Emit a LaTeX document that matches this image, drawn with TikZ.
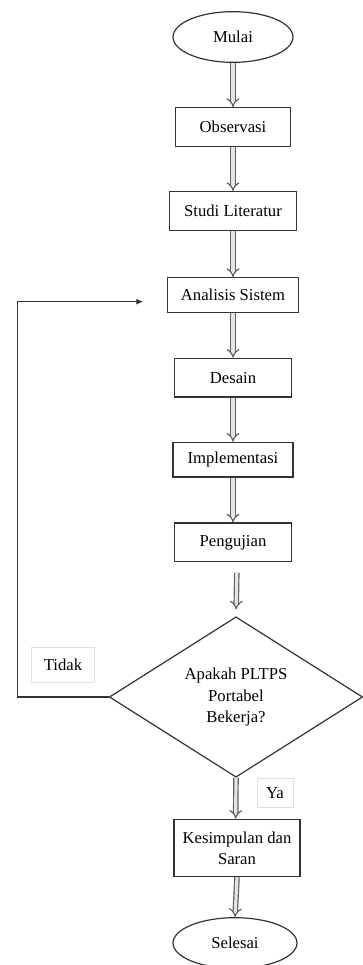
\documentclass[tikz,border=0pt]{standalone}
\usepackage{fontspec}
\setmainfont{Liberation Serif}
\usepackage{tikz}
\usetikzlibrary{shapes.geometric, arrows.meta, positioning}

\begin{document}
\begin{tikzpicture}[
    x=0.75pt, y=-0.75pt,
    node distance=63pt,
    font=\fontsize{12.5}{16}\selectfont,
    terminal/.style={ellipse, draw=black!80, line width=0.9pt, minimum width=90pt, minimum height=38pt, inner sep=0pt},
    process/.style={rectangle, draw=black!80, line width=0.9pt, fill=white, minimum width=88pt, minimum height=29pt, align=center, inner sep=2pt},
    decision/.style={diamond, draw=black!80, line width=0.9pt, minimum width=190pt, minimum height=115pt, inner sep=0pt, align=center},
    flow/.style={draw=gray!75!black, line width=0.9pt, double=gray!20, double distance=2.4pt, -{Implies}},
    loop/.style={draw=black!80, line width=0.8pt, -{Latex[length=5pt, width=4.5pt]}},
    answer/.style={rectangle, draw=gray!25, line width=0.6pt, inner sep=0pt}
]
    \useasboundingbox (0,0) rectangle (362,965);

    % Main chain
    \node (mulai) [terminal] at (233,37) {Mulai};
    \node (observasi) [process, below of=mulai, yshift=-4.5pt, minimum width=86pt] {Observasi};
    \node (studi) [process, below of=observasi, minimum width=95pt] {Studi Literatur};
    \node (analisis) [process, below of=studi, minimum width=98pt, minimum height=26pt] {Analisis Sistem};
    \node (desain) [process, below of=analisis, yshift=1pt] {Desain};
    \node (implementasi) [process, below of=desain, yshift=1.5pt, minimum width=90pt, minimum height=26pt] {Implementasi};
    \node (pengujian) [process, below of=implementasi, yshift=1pt] {Pengujian};

    % Decision and end
    \node (cek) [decision] at (236,697) {Apakah PLTPS\\Portabel\\Bekerja?};
    \node (kesimpulan) [process, minimum width=94.5pt, minimum height=43pt] at (237,848) {Kesimpulan dan\\Saran};
    \node (selesai) [terminal, minimum width=93pt] at (235,943) {Selesai};

    % Answer labels
    \node (tidak) [answer, minimum width=47pt, minimum height=26pt] at (63,665) {Tidak};
    \node (ya) [answer, minimum width=27pt, minimum height=22pt] at (275,793) {Ya};

    % Flow arrows
    \draw [flow] (mulai) -- (observasi);
    \draw [flow] (observasi) -- (studi);
    \draw [flow] (studi) -- (analisis);
    \draw [flow] (analisis) -- (desain);
    \draw [flow] (desain) -- (implementasi);
    \draw [flow] (implementasi) -- (pengujian);
    \draw [flow, shorten <=8pt, shorten >=5pt] ([xshift=3pt]pengujian.south) -- (cek.north);
    \draw [flow] (cek.south) -- ([xshift=-1pt]kesimpulan.north);
    \draw [flow] (kesimpulan.south) -- (selesai.north);

    % Loop back
    \coordinate (masuk) at ([xshift=-18pt, yshift=-5pt]analisis.west);
    \draw [loop] (cek.west) -- ++(-91,0) |- (masuk);
\end{tikzpicture}
\end{document}
